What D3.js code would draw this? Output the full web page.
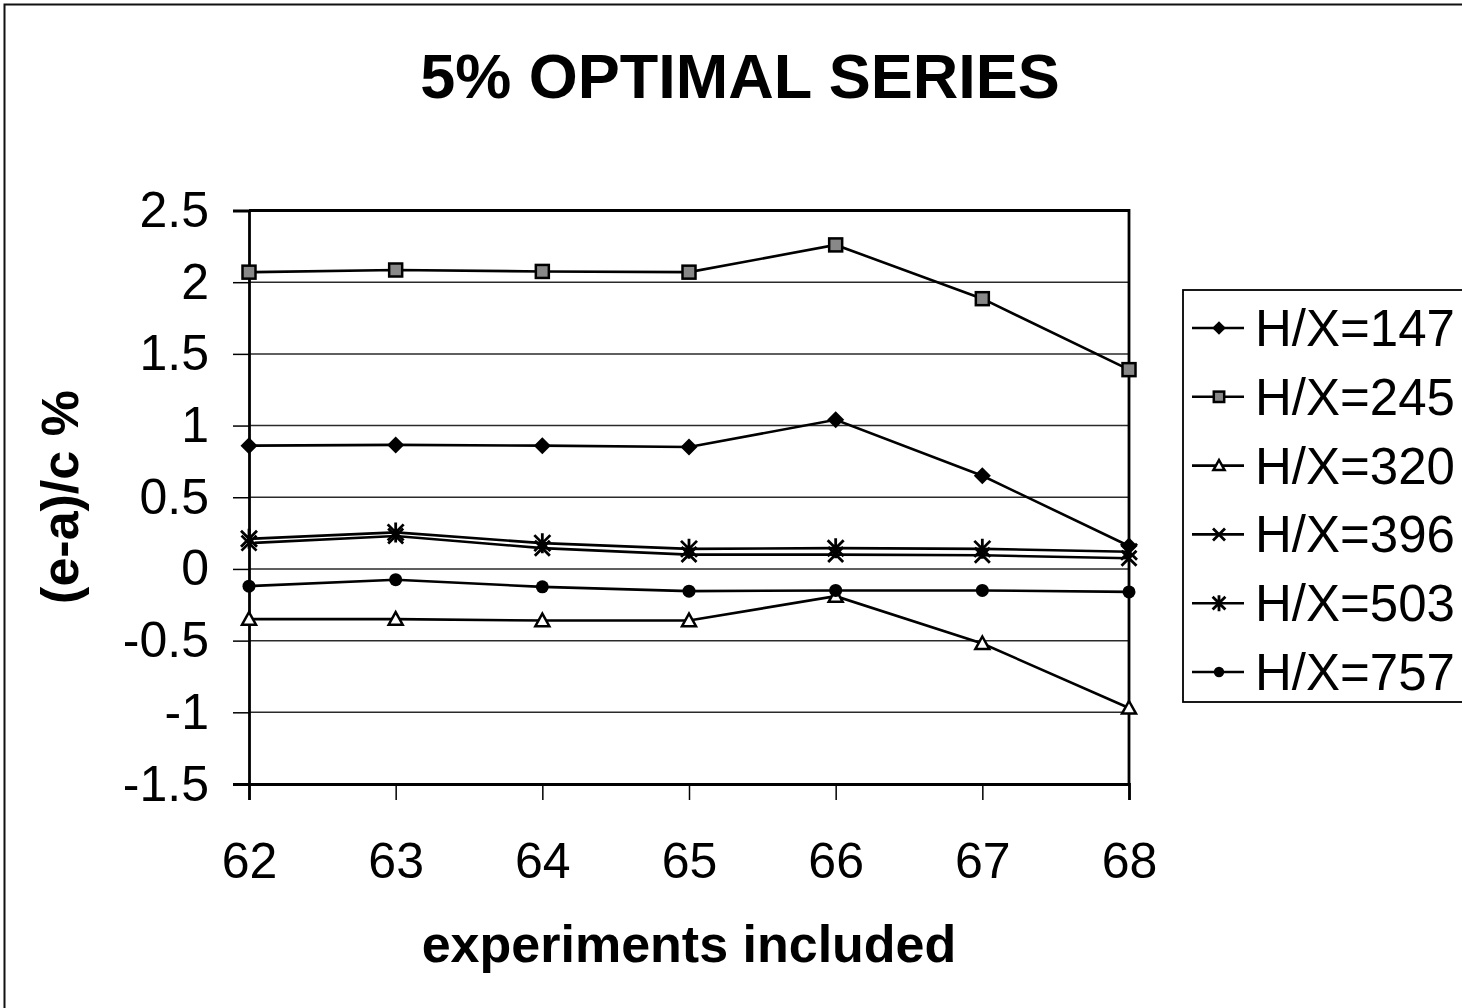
<!DOCTYPE html>
<html>
<head>
<meta charset="utf-8">
<script src="https://cdn.jsdelivr.net/npm/d3@7"></script>
<style>
  html, body { margin: 0; padding: 0; background: #fff; }
  svg { display: block; font-family: "Liberation Sans", Arial, sans-serif; }
</style>
</head>
<body>
<div id="chart"></div>
<script>
// Data
const categories = [62, 63, 64, 65, 66, 67, 68];
const hx147 = [0.86, 0.865, 0.86, 0.85, 1.04, 0.65, 0.16];
const hx245 = [2.07, 2.085, 2.075, 2.07, 2.26, 1.885, 1.39];
const hx320 = [-0.35, -0.35, -0.36, -0.36, -0.19, -0.52, -0.97];
const hx396 = [0.18, 0.23, 0.145, 0.10, 0.10, 0.095, 0.075];
const hx503 = [0.21, 0.255, 0.18, 0.14, 0.145, 0.14, 0.12];
const hx757 = [-0.12, -0.075, -0.125, -0.155, -0.15, -0.15, -0.16];
const seriesNames = ["H/X=147", "H/X=245", "H/X=320", "H/X=396", "H/X=503", "H/X=757"];
const yTicks = [-1.5, -1, -0.5, 0, 0.5, 1, 1.5, 2, 2.5];

const series = [
    { name: seriesNames[0], values: hx147, marker: "diamond" },
    { name: seriesNames[1], values: hx245, marker: "square" },
    { name: seriesNames[2], values: hx320, marker: "triangle" },
    { name: seriesNames[3], values: hx396, marker: "x" },
    { name: seriesNames[4], values: hx503, marker: "asterisk" },
    { name: seriesNames[5], values: hx757, marker: "circle" }
];

const width = 1462, height = 1008;
const plot = { left: 249, right: 1129, top: 210.5, bottom: 784 };

const svg = d3.select("#chart").append("svg")
    .attr("width", width)
    .attr("height", height);

// outer chart border
svg.append("rect")
    .attr("x", 4.5).attr("y", 4.5)
    .attr("width", width + 10).attr("height", height + 10)
    .attr("fill", "none").attr("stroke", "#111").attr("stroke-width", 2);

const x = d3.scalePoint().domain(categories).range([plot.left, plot.right]);
const y = d3.scaleLinear().domain([-1.5, 2.5]).range([plot.bottom, plot.top]);

// gridlines
svg.append("g")
    .selectAll("line")
    .data(yTicks.filter(d => d > -1.5))
    .enter().append("line")
    .attr("x1", plot.left).attr("x2", plot.right)
    .attr("y1", d => y(d)).attr("y2", d => y(d))
    .attr("stroke", "#2a2a2a").attr("stroke-width", 1.5);

// plot area frame (top/right)
svg.append("path")
    .attr("d", `M${plot.left},${plot.top}H${plot.right}V${plot.bottom}`)
    .attr("fill", "none").attr("stroke", "#000").attr("stroke-width", 2.8);

// y axis
const yAxis = svg.append("g")
    .attr("transform", `translate(${plot.left},0)`)
    .call(d3.axisLeft(y).tickValues(yTicks).tickSize(16).tickPadding(24)
        .tickFormat(d => String(d)));
yAxis.select(".domain").attr("stroke", "#000").attr("stroke-width", 2.8);
yAxis.selectAll(".tick line").attr("stroke", "#000").attr("stroke-width", 1.5);
yAxis.selectAll(".tick text")
    .attr("font-size", 50).attr("fill", "#000")
    .attr("font-family", "'Liberation Sans', Arial, sans-serif");

// x axis
const xAxis = svg.append("g")
    .attr("transform", `translate(0,${plot.bottom})`)
    .call(d3.axisBottom(x).tickSize(16).tickPadding(42));
xAxis.select(".domain").attr("stroke", "#000").attr("stroke-width", 2.8);
xAxis.selectAll(".tick line").attr("stroke", "#000").attr("stroke-width", 1.5);
xAxis.selectAll(".tick text")
    .attr("font-size", 50).attr("fill", "#000")
    .attr("font-family", "'Liberation Sans', Arial, sans-serif");

// marker drawing
function drawMarker(g, type, cx, cy, scale) {
    const s = scale || 1;
    if (type === "diamond") {
        const r = 8.5 * s;
        g.append("path")
            .attr("d", `M${cx},${cy - r}L${cx + r},${cy}L${cx},${cy + r}L${cx - r},${cy}Z`)
            .attr("fill", "#000");
    } else if (type === "square") {
        const r = 6.5 * s;
        g.append("rect")
            .attr("x", cx - r).attr("y", cy - r)
            .attr("width", 2 * r).attr("height", 2 * r)
            .attr("fill", "#888").attr("stroke", "#000").attr("stroke-width", 2.5);
    } else if (type === "triangle") {
        const r = 7 * s;
        g.append("path")
            .attr("d", `M${cx},${cy - r}L${cx + r},${cy + r * 0.8}L${cx - r},${cy + r * 0.8}Z`)
            .attr("fill", "#fff").attr("stroke", "#000").attr("stroke-width", 2.5);
    } else if (type === "x") {
        const r = 7.5 * s;
        g.append("path")
            .attr("d", `M${cx - r},${cy - r}L${cx + r},${cy + r}M${cx - r},${cy + r}L${cx + r},${cy - r}`)
            .attr("stroke", "#000").attr("stroke-width", 2.8);
    } else if (type === "asterisk") {
        const r = 8 * s;
        g.append("path")
            .attr("d", `M${cx - r},${cy - r}L${cx + r},${cy + r}M${cx - r},${cy + r}L${cx + r},${cy - r}M${cx},${cy - r * 1.25}L${cx},${cy + r * 1.25}`)
            .attr("stroke", "#000").attr("stroke-width", 2.8);
    } else if (type === "circle") {
        g.append("circle")
            .attr("cx", cx).attr("cy", cy).attr("r", 6.5 * s)
            .attr("fill", "#000");
    }
}

const line = d3.line()
    .x((d, i) => x(categories[i]))
    .y(d => y(d));

const seriesG = svg.append("g");
series.forEach(s => {
    seriesG.append("path")
        .datum(s.values)
        .attr("d", line)
        .attr("fill", "none")
        .attr("stroke", "#000")
        .attr("stroke-width", 2.6);
});
series.forEach(s => {
    const mg = seriesG.append("g");
    s.values.forEach((v, i) => drawMarker(mg, s.marker, x(categories[i]), y(v)));
});

// title
svg.append("text")
    .attr("x", 740).attr("y", 98)
    .attr("text-anchor", "middle")
    .attr("font-size", 63).attr("font-weight", "bold")
    .text("5% OPTIMAL SERIES");

// axis titles
svg.append("text")
    .attr("x", 689).attr("y", 962)
    .attr("text-anchor", "middle")
    .attr("font-size", 52).attr("font-weight", "bold")
    .text("experiments included");

svg.append("text")
    .attr("transform", "translate(78,497) rotate(-90)")
    .attr("text-anchor", "middle")
    .attr("font-size", 52).attr("font-weight", "bold")
    .text("(e-a)/c %");

// legend
const legend = svg.append("g");
legend.append("rect")
    .attr("x", 1183).attr("y", 290)
    .attr("width", 320).attr("height", 412)
    .attr("fill", "#fff").attr("stroke", "#000").attr("stroke-width", 1.8);

const legendY = d3.scalePoint().domain(seriesNames).range([328, 672]);
series.forEach(s => {
    const cy = legendY(s.name);
    legend.append("line")
        .attr("x1", 1192).attr("x2", 1244)
        .attr("y1", cy).attr("y2", cy)
        .attr("stroke", "#000").attr("stroke-width", 2.6);
    drawMarker(legend, s.marker, 1219, cy, 0.8);
    legend.append("text")
        .attr("x", 1255).attr("y", cy + 18)
        .attr("font-size", 51)
        .text(s.name);
});
</script>
</body>
</html>
